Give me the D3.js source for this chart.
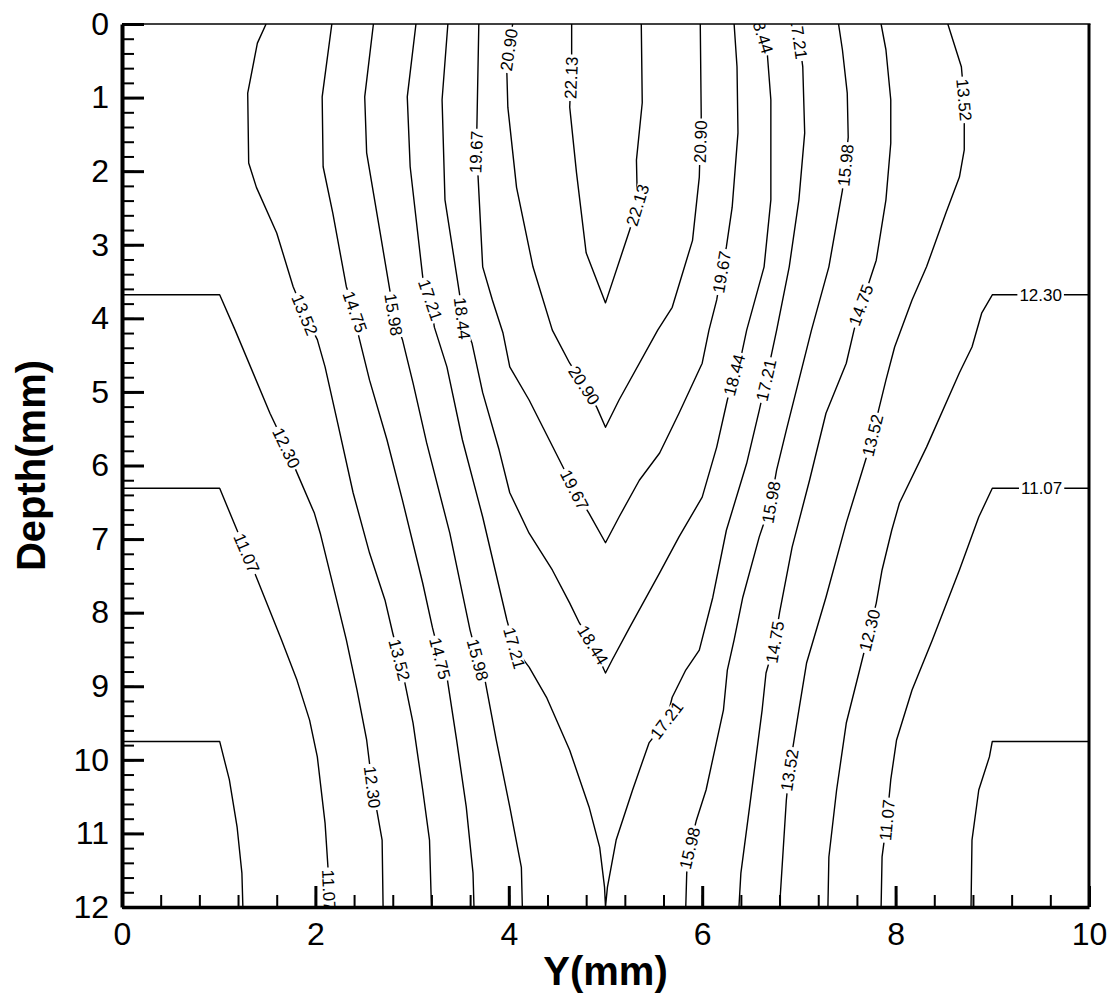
<!DOCTYPE html>
<html>
<head>
<meta charset="utf-8">
<script src="https://cdn.jsdelivr.net/npm/d3@7"></script>
<style>
  html, body { margin: 0; padding: 0; background: #fff; }
  svg { display: block; }
</style>
</head>
<body>
<svg id="chart" width="1113" height="996"></svg>
<script>
// Contour lines, each point is [Y (mm), Depth (mm)]
const c0984L = [[0,9.75],[1.01,9.75],[1.11,10.27],[1.19,10.91],[1.24,11.54],[1.25,12]];
const c0984R = [[10,9.75],[9.00,9.75],[8.97,9.96],[8.86,10.41],[8.79,11.09],[8.78,12]];

const c1107L = [[0,6.31],[1.01,6.31],[1.19,6.88],[1.29,7.19],[1.39,7.52],[1.65,8.37],[1.81,8.92],[1.94,9.46],[2.02,9.96],[2.10,10.86],[2.13,11.46],[2.15,12]];
const c1107R = [[10,6.31],[9.00,6.31],[8.86,6.70],[8.66,7.42],[8.38,8.37],[8.17,9.05],[8.01,9.73],[7.95,10.27],[7.91,10.82],[7.86,11.32],[7.85,12]];

const c1230L = [[0,3.68],[1.01,3.68],[1.17,4.16],[1.53,5.29],[1.70,5.76],[1.81,6.10],[1.99,6.65],[2.05,6.92],[2.22,7.83],[2.32,8.37],[2.43,9.05],[2.53,9.73],[2.59,10.37],[2.64,10.72],[2.69,11.09],[2.70,12]];
const c1230R = [[10,3.68],[9.00,3.68],[8.89,3.93],[8.79,4.39],[8.66,4.74],[8.32,5.75],[8.04,6.51],[7.96,6.88],[7.86,7.42],[7.80,7.87],[7.73,8.24],[7.62,8.82],[7.49,9.50],[7.39,10.41],[7.31,11.32],[7.30,12]];

const c1352L = [[1.49,0],[1.40,0.26],[1.30,0.94],[1.31,1.89],[1.39,2.22],[1.60,2.84],[1.77,3.57],[1.89,3.95],[2.02,4.29],[2.10,4.66],[2.23,5.42],[2.39,6.37],[2.56,7.19],[2.72,7.83],[2.80,8.28],[2.87,8.64],[2.92,8.92],[3.01,9.50],[3.11,10.41],[3.18,11.09],[3.20,12]];
const c1352R = [[8.54,0],[8.68,0.58],[8.71,1.03],[8.71,1.71],[8.66,2.08],[8.52,2.57],[8.32,3.30],[8.17,3.75],[7.99,4.39],[7.90,4.84],[7.76,5.59],[7.70,5.88],[7.49,6.78],[7.28,7.79],[7.08,8.68],[7.00,9.32],[6.90,10.14],[6.87,10.55],[6.80,12]];

const c1475L = [[2.17,0],[2.07,0.99],[2.08,1.94],[2.18,2.57],[2.32,3.57],[2.41,3.91],[2.44,4.20],[2.56,4.84],[2.74,5.65],[2.90,6.47],[3.11,7.60],[3.21,8.20],[3.29,8.62],[3.36,8.87],[3.46,9.73],[3.56,10.64],[3.63,11.54],[3.64,12]];
const c1475R = [[7.85,0],[7.90,0.35],[7.95,1.03],[7.95,1.62],[7.90,2.39],[7.80,3.21],[7.71,3.57],[7.64,3.82],[7.57,4.16],[7.49,4.61],[7.28,5.29],[7.11,6.20],[6.93,7.11],[6.80,8.00],[6.75,8.40],[6.66,8.82],[6.62,9.32],[6.49,10.64],[6.40,11.54],[6.38,12]];

const c1598L = [[2.60,0],[2.51,0.99],[2.53,1.75],[2.67,2.84],[2.77,3.62],[2.81,3.95],[2.90,4.29],[3.01,4.88],[3.15,5.69],[3.39,6.92],[3.60,8.24],[3.68,8.64],[3.75,8.89],[3.87,9.73],[4.01,10.64],[4.13,11.46],[4.14,12]];
const c1598R = [[7.41,0],[7.45,0.35],[7.50,0.94],[7.51,1.54],[7.48,1.92],[7.45,2.26],[7.31,3.30],[7.13,4.16],[7.00,4.84],[6.87,5.52],[6.77,6.06],[6.71,6.50],[6.59,6.97],[6.42,7.79],[6.33,8.37],[6.26,8.78],[6.22,9.32],[6.04,10.41],[5.94,10.82],[5.87,11.20],[5.84,11.54],[5.83,12]];

const c1721 = [[3.04,0],[2.95,0.99],[2.98,1.94],[3.11,3.44],[3.19,3.75],[3.23,4.12],[3.36,4.66],[3.52,5.65],[3.73,6.70],[3.98,8.10],[4.06,8.48],[4.21,8.74],[4.39,9.15],[4.63,9.87],[4.83,10.64],[4.94,11.19],[4.99,11.73],[5.0,12],
  [5.02,11.73],[5.11,11.09],[5.28,10.41],[5.45,9.77],[5.63,9.46],[5.69,9.15],[5.83,8.78],[5.97,8.51],[6.11,7.79],[6.25,6.88],[6.46,5.97],[6.59,5.25],[6.66,4.84],[6.71,4.53],[6.77,4.16],[6.90,3.30],[7.00,2.39],[7.06,1.48],[7.04,0.58],[7.00,0.19],[6.93,0]];

const c1844 = [[3.37,0],[3.31,1.03],[3.34,2.39],[3.49,3.66],[3.52,4.00],[3.62,4.34],[3.73,5.01],[3.90,5.79],[4.01,6.37],[4.21,6.92],[4.45,7.42],[4.63,7.87],[4.73,8.14],[4.87,8.44],[5.0,8.82],
  [5.07,8.64],[5.25,8.20],[5.56,7.46],[5.76,6.97],[6.00,6.43],[6.15,5.75],[6.26,5.11],[6.33,4.77],[6.40,4.53],[6.46,4.16],[6.64,3.30],[6.71,2.39],[6.71,1.03],[6.67,0.35],[6.59,0]];

const c1967 = [[3.69,0],[3.67,1.40],[3.66,1.74],[3.68,2.02],[3.73,3.30],[3.83,3.75],[3.94,4.20],[4.01,4.66],[4.21,5.11],[4.56,6.02],[4.68,6.33],[4.83,6.65],[5.0,7.05],
  [5.14,6.70],[5.35,6.20],[5.56,5.83],[5.76,5.29],[6.00,4.61],[6.07,4.16],[6.15,3.75],[6.20,3.37],[6.25,3.03],[6.31,2.49],[6.37,1.48],[6.36,0.58],[6.33,0]];

const c2090 = [[4.04,0],[4.00,0.35],[3.98,0.67],[3.99,1.13],[4.08,2.22],[4.25,3.30],[4.45,4.16],[4.63,4.61],[4.78,4.91],[4.91,5.21],[5.0,5.48],
  [5.14,5.11],[5.54,4.16],[5.69,3.85],[5.90,2.94],[5.97,2.08],[5.98,1.60],[5.99,1.26],[5.98,0]];

const c2213 = [[4.65,0],[4.65,0.49],[4.63,1.13],[4.70,2.02],[4.80,3.11],[5.0,3.79],[5.25,2.80],[5.33,2.46],[5.32,1.85],[5.38,1.07],[5.37,0]];

// Where each level's value is written along its line, [Y (mm), Depth (mm)]
const lab1107 = [[1.29,7.19],[2.14,11.77],[9.51,6.31],[7.91,10.82]];
const lab1230 = [[1.70,5.76],[2.59,10.37],[9.50,3.68],[7.73,8.24]];
const lab1352 = [[1.89,3.95],[2.87,8.64],[8.71,1.03],[7.76,5.59],[6.90,10.14]];
const lab1475 = [[2.41,3.91],[3.29,8.62],[7.64,3.82],[6.75,8.40]];
const lab1598 = [[2.81,3.95],[3.68,8.64],[7.48,1.92],[6.71,6.50],[5.87,11.20]];
const lab1721 = [[3.19,3.75],[4.06,8.48],[7.00,0.19],[6.66,4.84],[5.63,9.46]];
const lab1844 = [[3.52,4.00],[4.87,8.44],[6.64,0.11],[6.33,4.77]];
const lab1967 = [[3.66,1.74],[4.68,6.33],[6.20,3.37]];
const lab2090 = [[4.00,0.35],[4.78,4.91],[5.98,1.60]];
const lab2213 = [[4.65,0.73],[5.33,2.46]];

const contourLevels = [9.84, 11.07, 12.30, 13.52, 14.75, 15.98, 17.21, 18.44, 19.67, 20.90, 22.13];
const depthTicks = [0,1,2,3,4,5,6,7,8,9,10,11,12];
const yTicks = [0,2,4,6,8,10];

// Level table assembled from the arrays above
const contours = [
  { level: contourLevels[0],  paths: [c0984L, c0984R], labels: [] },
  { level: contourLevels[1],  paths: [c1107L, c1107R], labels: lab1107 },
  { level: contourLevels[2],  paths: [c1230L, c1230R], labels: lab1230 },
  { level: contourLevels[3],  paths: [c1352L, c1352R], labels: lab1352 },
  { level: contourLevels[4],  paths: [c1475L, c1475R], labels: lab1475 },
  { level: contourLevels[5],  paths: [c1598L, c1598R], labels: lab1598 },
  { level: contourLevels[6],  paths: [c1721],          labels: lab1721 },
  { level: contourLevels[7],  paths: [c1844],          labels: lab1844 },
  { level: contourLevels[8],  paths: [c1967],          labels: lab1967 },
  { level: contourLevels[9],  paths: [c2090],          labels: lab2090 },
  { level: contourLevels[10], paths: [c2213],          labels: lab2213 }
];

const W = 1113, H = 996;
const plot = { left: 122, top: 24, right: 1089, bottom: 907 };

const x = d3.scaleLinear().domain([0, 10]).range([plot.left, plot.right]);
const y = d3.scaleLinear().domain([0, 12]).range([plot.top, plot.bottom]);

const svg = d3.select('#chart');
svg.append('rect').attr('width', W).attr('height', H).attr('fill', '#fff');

svg.append('defs').append('clipPath').attr('id', 'plotClip')
  .append('rect')
  .attr('x', plot.left).attr('y', plot.top)
  .attr('width', plot.right - plot.left).attr('height', plot.bottom - plot.top);

const line = d3.line().x(d => x(d[0])).y(d => y(d[1]));

// contour lines
const gLines = svg.append('g').attr('clip-path', 'url(#plotClip)');
contours.forEach(c => c.paths.forEach(p => {
  gLines.append('path')
    .attr('d', line(p))
    .attr('fill', 'none')
    .attr('stroke', '#000')
    .attr('stroke-width', 1.4)
    .attr('stroke-linejoin', 'round');
}));

// snap a label onto its line and take the line's direction there
function placeOnLine(pt, paths) {
  const px = x(pt[0]), py = y(pt[1]);
  let best = null;
  paths.forEach(p => {
    for (let i = 0; i < p.length - 1; i++) {
      const ax = x(p[i][0]), ay = y(p[i][1]);
      const bx = x(p[i + 1][0]), by = y(p[i + 1][1]);
      const dx = bx - ax, dy = by - ay;
      const L2 = dx * dx + dy * dy;
      if (!L2) continue;
      let t = ((px - ax) * dx + (py - ay) * dy) / L2;
      t = Math.max(0, Math.min(1, t));
      const qx = ax + t * dx, qy = ay + t * dy;
      const d2 = (qx - px) ** 2 + (qy - py) ** 2;
      if (!best || d2 < best.d2) best = { d2, qx, qy, ang: Math.atan2(dy, dx) * 180 / Math.PI };
    }
  });
  let a = best.ang;
  if (a > 90) a -= 180;
  if (a <= -90) a += 180;
  return { x: best.qx, y: best.qy, a };
}

// level labels along the lines
const gLabels = svg.append('g').attr('clip-path', 'url(#plotClip)');
contours.forEach(c => c.labels.forEach(pt => {
  const p = placeOnLine(pt, c.paths);
  const g = gLabels.append('g')
    .attr('transform', `translate(${p.x.toFixed(2)},${p.y.toFixed(2)}) rotate(${p.a.toFixed(2)})`);
  const t = g.append('text')
    .attr('text-anchor', 'middle')
    .attr('dy', '0.36em')
    .attr('font-family', '"Liberation Sans", Arial, sans-serif')
    .attr('font-size', 17)
    .attr('fill', '#000')
    .text(c.level.toFixed(2));
  const bb = t.node().getBBox();
  g.insert('rect', 'text')
    .attr('x', bb.x - 2).attr('y', -6)
    .attr('width', bb.width + 4).attr('height', 12)
    .attr('fill', '#fff');
}));

const tickFont = '"Liberation Sans", Arial, sans-serif';

// left axis (Depth), ticks pointing into the plot
svg.append('g')
  .attr('transform', `translate(${plot.left},0)`)
  .call(d3.axisLeft(y).tickValues(d3.range(0, 12.0001, 0.2)).tickSize(-12).tickSizeOuter(0).tickFormat(''))
  .call(g => g.select('.domain').remove())
  .call(g => g.selectAll('.tick line').attr('stroke', '#000').attr('stroke-width', 2));

const gy = svg.append('g')
  .attr('transform', `translate(${plot.left},0)`)
  .call(d3.axisLeft(y).tickValues(depthTicks).tickSize(-22).tickSizeOuter(0).tickPadding(13).tickFormat(d3.format('d')));
gy.select('.domain').attr('stroke', '#000').attr('stroke-width', 4);
gy.selectAll('.tick line').attr('stroke', '#000').attr('stroke-width', 3);
gy.selectAll('.tick text')
  .attr('font-family', tickFont).attr('font-size', 32).attr('fill', '#000');

// bottom axis (Y), ticks pointing into the plot
svg.append('g')
  .attr('transform', `translate(0,${plot.bottom})`)
  .call(d3.axisBottom(x).tickValues(d3.range(0, 10.0001, 0.4)).tickSize(-12).tickSizeOuter(0).tickFormat(''))
  .call(g => g.select('.domain').remove())
  .call(g => g.selectAll('.tick line').attr('stroke', '#000').attr('stroke-width', 2));

const gx = svg.append('g')
  .attr('transform', `translate(0,${plot.bottom})`)
  .call(d3.axisBottom(x).tickValues(yTicks).tickSize(-21).tickSizeOuter(0).tickPadding(15).tickFormat(d3.format('d')));
gx.select('.domain').attr('stroke', '#000').attr('stroke-width', 3.5);
gx.selectAll('.tick line').attr('stroke', '#000').attr('stroke-width', 3);
gx.selectAll('.tick text')
  .attr('font-family', tickFont).attr('font-size', 32).attr('fill', '#000');

// top and right frame
svg.append('line')
  .attr('x1', plot.left).attr('x2', plot.right + 1.5)
  .attr('y1', plot.top).attr('y2', plot.top)
  .attr('stroke', '#000').attr('stroke-width', 1.5);
svg.append('line')
  .attr('x1', plot.right).attr('x2', plot.right)
  .attr('y1', plot.top).attr('y2', plot.bottom)
  .attr('stroke', '#000').attr('stroke-width', 3);

// axis titles
svg.append('text')
  .attr('transform', `translate(45,${(plot.top + plot.bottom) / 2}) rotate(-90)`)
  .attr('text-anchor', 'middle')
  .attr('font-family', '"Liberation Sans", Arial, sans-serif')
  .attr('font-weight', 'bold')
  .attr('font-size', 40)
  .attr('fill', '#000')
  .text('Depth(mm)');

svg.append('text')
  .attr('x', (plot.left + plot.right) / 2)
  .attr('y', 985)
  .attr('text-anchor', 'middle')
  .attr('font-family', '"Liberation Sans", Arial, sans-serif')
  .attr('font-weight', 'bold')
  .attr('font-size', 40)
  .attr('fill', '#000')
  .text('Y(mm)');
</script>
</body>
</html>
